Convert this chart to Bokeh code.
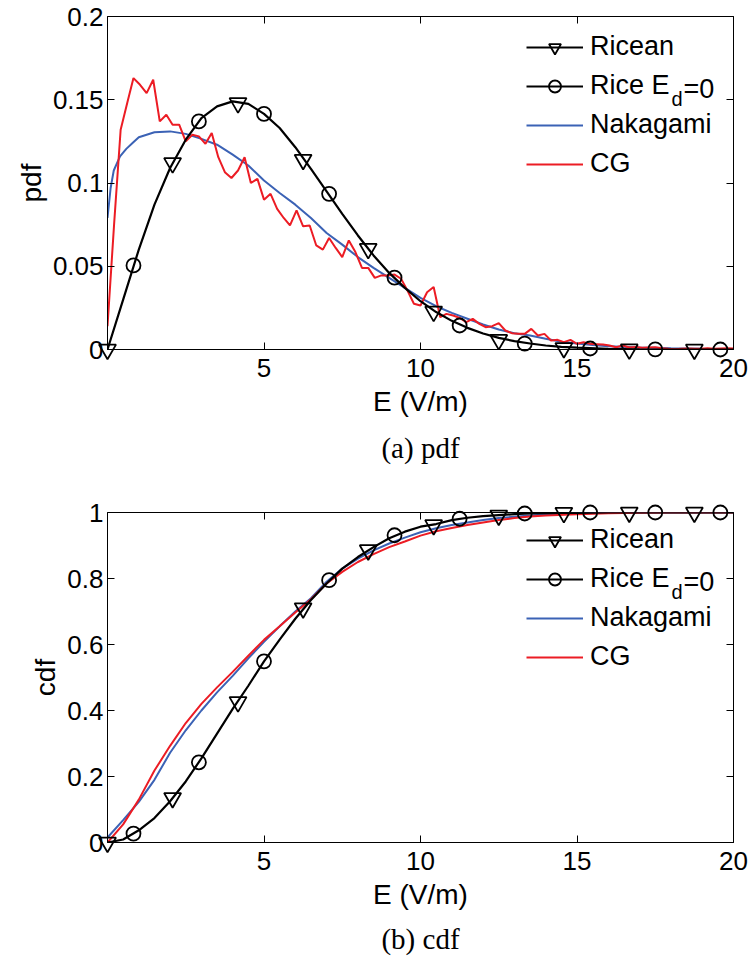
from bokeh.plotting import figure
from bokeh.models import (Range1d, FixedTicker, LinearAxis, Legend, LegendItem,
                          Label, Title)
from bokeh.layouts import column
from bokeh.embed import file_html
from bokeh.resources import INLINE

# ---------------- data ----------------
x_ticks = [5, 10, 15, 20]
x_tick_labels = ["5", "10", "15", "20"]
pdf_ticks = [0, 0.05, 0.1, 0.15, 0.2]
pdf_tick_labels = ["0", "0.05", "0.1", "0.15", "0.2"]
cdf_ticks = [0, 0.2, 0.4, 0.6, 0.8, 1.0]
cdf_tick_labels = ["0", "0.2", "0.4", "0.6", "0.8", "1"]

# Ricean (black line)
ric_x = [0, 0.5, 1.0, 1.5, 2.0, 2.5, 3.0, 3.5, 4.0, 4.5, 5.0, 5.5, 6.0, 6.5, 7.0, 7.5,
         8.0, 8.5, 9.0, 9.5, 10.0, 10.5, 11.0, 11.5, 12.0, 12.5, 13.0, 13.5, 14.0,
         14.5, 15.0, 16.0, 17.0, 18.0, 19.0, 20.0]
ric_pdf = [0, 0.030, 0.060, 0.087, 0.109, 0.126, 0.139, 0.146, 0.149, 0.1475, 0.1415,
           0.133, 0.1215, 0.1085, 0.095, 0.0815, 0.0685, 0.0565, 0.046, 0.037, 0.029,
           0.0225, 0.0172, 0.013, 0.0096, 0.007, 0.005, 0.0036, 0.0024, 0.0016, 0.0011,
           0.0004, 0.0001, 0, 0, 0]
ric_cdf = [0, 0.009, 0.037, 0.074, 0.125, 0.185, 0.255, 0.33, 0.405, 0.475, 0.549,
           0.615, 0.678, 0.735, 0.785, 0.83, 0.865, 0.895, 0.922, 0.942, 0.957, 0.965,
           0.977, 0.984, 0.989, 0.992, 0.995, 0.997, 0.998, 0.9985, 0.999, 1.0, 1.0,
           1.0, 1.0, 1.0]

# Ricean markers (triangles) and Rice E_d=0 markers (circles)
tri_x = [0, 2.08, 4.17, 6.25, 8.33, 10.42, 12.5, 14.58, 16.67, 18.75]
tri_pdf = [0, 0.112, 0.148, 0.114, 0.0605, 0.0228, 0.0058, 0.0009, 0.0001, 0]
tri_cdf = [0, 0.135, 0.4256, 0.71, 0.886, 0.962, 0.991, 0.999, 1.0, 1.0]
circ_x = [0.83, 2.92, 5.0, 7.08, 9.17, 11.25, 13.33, 15.42, 17.5, 19.58]
circ_pdf = [0.0505, 0.137, 0.1415, 0.0935, 0.0432, 0.0144, 0.0035, 0.0006, 0.0001, 0]
circ_cdf = [0.027, 0.243, 0.549, 0.795, 0.931, 0.981, 0.997, 1.0, 1.0, 1.0]

# Nakagami (blue)
nak_pdf_x = [0, 0.1, 0.2, 0.4, 0.6, 0.8, 1.0, 1.5, 2.0, 2.5, 3.0, 3.5, 4.0, 4.5, 5.0,
             5.5, 6.0, 6.5, 7.0, 7.5, 8.0, 8.5, 9.0, 9.5, 10.0, 10.5, 11.0, 11.5, 12.0,
             12.5, 13.0, 13.5, 14.0, 14.5, 15.0, 15.5, 16.0, 17.0, 18.0, 19.0, 20.0]
nak_pdf = [0.079, 0.097, 0.1075, 0.116, 0.1205, 0.124, 0.1275, 0.1305, 0.131, 0.1295,
           0.1265, 0.123, 0.117, 0.1105, 0.1015, 0.094, 0.087, 0.079, 0.070, 0.063,
           0.0555, 0.049, 0.043, 0.037, 0.031, 0.026, 0.022, 0.0185, 0.015, 0.012,
           0.0098, 0.0084, 0.0064, 0.0046, 0.0036, 0.0027, 0.002, 0.0012, 0.0007,
           0.0004, 0.0002]
nak_cdf_x = [0, 0.5, 1.0, 1.5, 2.0, 2.5, 3.0, 3.5, 4.0, 4.5, 5.0, 5.5, 6.0, 6.5, 7.0,
             7.5, 8.0, 8.5, 9.0, 9.5, 10.0, 10.5, 11.0, 11.5, 12.0, 12.5, 13.0, 13.5,
             14.0, 15.0, 16.0, 17.0, 20.0]
nak_cdf = [0.015, 0.068, 0.123, 0.19, 0.272, 0.34, 0.40, 0.455, 0.505, 0.558, 0.608,
           0.655, 0.70, 0.74, 0.79, 0.83, 0.86, 0.885, 0.906, 0.924, 0.94, 0.952, 0.962,
           0.970, 0.977, 0.983, 0.987, 0.991, 0.994, 0.997, 0.999, 1.0, 1.0]

# CG (red)
cg_pdf_x = [0.0, 0.21, 0.42, 0.63, 0.83, 1.04, 1.25, 1.46, 1.67, 1.88, 2.08, 2.29, 2.50,
            2.71, 2.92, 3.13, 3.33, 3.54, 3.75, 3.96, 4.17, 4.38, 4.58, 4.79, 5.00, 5.21,
            5.42, 5.63, 5.83, 6.04, 6.25, 6.46, 6.67, 6.88, 7.08, 7.29, 7.50, 7.71, 7.92,
            8.13, 8.33, 8.54, 8.75, 8.96, 9.17, 9.38, 9.58, 9.79, 10.0, 10.21, 10.42,
            10.63, 10.83, 11.04, 11.25, 11.46, 11.67, 11.88, 12.08, 12.29, 12.50, 12.71,
            12.92, 13.13, 13.33, 13.54, 13.75, 13.96, 14.17, 14.38, 14.58, 14.79, 15.0,
            15.21, 15.42, 15.63, 15.83, 16.04, 16.25, 16.46, 16.67, 16.88, 17.08, 17.29,
            17.50, 17.71, 17.92, 18.13, 18.33, 18.54, 18.75, 18.96, 19.17, 19.38, 19.58,
            19.79, 20.0]
cg_pdf = [0.014, 0.075, 0.132, 0.148, 0.163, 0.159, 0.154, 0.162, 0.137, 0.141, 0.135,
          0.135, 0.125, 0.129, 0.128, 0.1235, 0.130, 0.1155, 0.1065, 0.103, 0.1075,
          0.1155, 0.100, 0.1025, 0.090, 0.0935, 0.0845, 0.079, 0.0745, 0.0835, 0.074,
          0.0745, 0.0625, 0.060, 0.067, 0.061, 0.0555, 0.0655, 0.0585, 0.049, 0.049,
          0.043, 0.0445, 0.0445, 0.045, 0.0425, 0.0355, 0.0275, 0.0264, 0.0344, 0.0375,
          0.0194, 0.0214, 0.0204, 0.019, 0.0164, 0.0184, 0.0154, 0.0134, 0.014, 0.0158,
          0.0114, 0.0098, 0.0094, 0.0094, 0.0124, 0.0084, 0.0094, 0.0054, 0.0058, 0.0044,
          0.0058, 0.0034, 0.0044, 0.0034, 0.0032, 0.003, 0.0024, 0.0014, 0.0024, 0.0012,
          0.0015, 0.001, 0.0012, 0.0014, 0.0008, 0.0004, 0.0002, 0.0004, 0.0006, 0.0004,
          0.0004, 0.0008, 0.0004, 0.0006, 0.0008, 0.0006]
cg_cdf_x = [0, 0.5, 1.0, 1.5, 2.0, 2.5, 3.0, 3.5, 4.0, 4.5, 5.0, 5.5, 6.0, 6.5, 7.0, 7.5,
            8.0, 8.5, 9.0, 9.5, 10.0, 10.5, 11.0, 11.5, 12.0, 12.5, 13.0, 13.5, 14.0,
            15.0, 16.0, 17.0, 18.0, 20.0]
cg_cdf = [0.0, 0.055, 0.13, 0.218, 0.293, 0.362, 0.42, 0.47, 0.517, 0.566, 0.614,
          0.655, 0.697, 0.737, 0.785, 0.82, 0.85, 0.874, 0.895, 0.912, 0.93, 0.943,
          0.953, 0.962, 0.970, 0.977, 0.983, 0.988, 0.991, 0.995, 0.998, 0.999, 1.0, 1.0]

legend_labels = ["Ricean", "Rice E", "Nakagami", "CG"]
caption_a = "(a) pdf"
caption_b = "(b) cdf"

# ---------------- style ----------------
SANS = "Liberation Sans"
SERIF = "Liberation Serif"
BLUE = "#3b62b5"
RED = "#ec1c24"
TICK_FS = "26px"
LABEL_FS = "28px"
LEG_FS = "27px"


def style_axes(p, yticks, ylabels, ylabel):
    p.xaxis.ticker = FixedTicker(ticks=x_ticks)
    p.xaxis.major_label_overrides = dict(zip(x_ticks, x_tick_labels))
    p.yaxis.ticker = FixedTicker(ticks=yticks)
    p.yaxis.major_label_overrides = dict(zip(yticks, ylabels))
    for ax in (p.xaxis[0], p.yaxis[0]):
        ax.major_tick_in = 7
        ax.major_tick_out = 0
        ax.minor_tick_line_color = None
        ax.major_label_text_font = SANS
        ax.major_label_text_font_size = TICK_FS
        ax.major_label_text_color = "black"
        ax.axis_label_text_font = SANS
        ax.axis_label_text_font_size = LABEL_FS
        ax.axis_label_text_font_style = "normal"
        ax.axis_label_text_color = "black"
        ax.axis_line_color = "black"
        ax.major_tick_line_color = "black"
    p.xaxis.axis_label = "E (V/m)"
    p.xaxis.major_label_standoff = 9
    p.xaxis.axis_label_standoff = 6
    p.yaxis.axis_label = ylabel
    p.yaxis.major_label_standoff = 4
    p.yaxis.axis_label_standoff = 3
    # mirrored ticks on top / right (no labels drawn)
    common = dict(major_tick_in=7, major_tick_out=0, minor_tick_line_color=None,
                  major_tick_line_color="black", major_label_text_font_size="1px",
                  major_label_text_color=None, major_label_standoff=0,
                  axis_line_color=None)
    top = LinearAxis(ticker=FixedTicker(ticks=x_ticks), **common)
    right = LinearAxis(ticker=FixedTicker(ticks=yticks), **common)
    p.add_layout(top, "above")
    p.add_layout(right, "right")
    p.grid.visible = False
    p.outline_line_color = "black"
    p.outline_line_width = 1
    p.outline_line_alpha = 1


def make_panel(ylo_hi, yticks, ylabels, ylabel, rx, ry, tx, ty, cx, cy,
               nx, ny, gx, gy, caption, top_border, bottom_border, cap_standoff):
    p = figure(width=749, height=481, output_backend="svg", toolbar_location=None,
               x_range=Range1d(0, 20), y_range=Range1d(*ylo_hi),
               min_border_left=107, min_border_right=16,
               min_border_top=top_border, min_border_bottom=bottom_border)
    style_axes(p, yticks, ylabels, ylabel)

    blue = p.line(nx, ny, line_color=BLUE, line_width=2)
    red = p.line(gx, gy, line_color=RED, line_width=2)
    blk = p.line(rx, ry, line_color="black", line_width=2.2)
    tri = p.scatter(tx, ty, marker="inverted_triangle", size=17, fill_color=None,
                    line_color="black", line_width=1.8, level="overlay")
    circ = p.scatter(cx, cy, marker="circle", size=14, fill_color=None,
                     line_color="black", line_width=1.8, level="overlay")

    legend = Legend(items=[
        LegendItem(label=legend_labels[0], renderers=[blk, tri]),
        LegendItem(label=legend_labels[1], renderers=[blk, circ]),
        LegendItem(label=legend_labels[2], renderers=[blue]),
        LegendItem(label=legend_labels[3], renderers=[red]),
    ], location=(419, 170), padding=0, margin=0, spacing=8,
        glyph_width=57, glyph_height=30, label_height=30, label_standoff=7,
        label_text_font=SANS, label_text_font_size=LEG_FS, label_text_color="black",
        border_line_color=None, background_fill_alpha=0)
    p.add_layout(legend)

    # subscript "d" and "=0" after "Rice E"
    p.add_layout(Label(x=564, y=251, x_units="screen", y_units="screen", text="d",
                       text_font=SANS, text_font_size="20px", text_baseline="middle",
                       text_color="black"))
    p.add_layout(Label(x=576, y=261, x_units="screen", y_units="screen", text="=0",
                       text_font=SANS, text_font_size=LEG_FS, text_baseline="middle",
                       text_color="black"))

    t = Title(text=caption, align="center", text_font=SERIF, text_font_size="29px",
              text_font_style="normal", text_color="black", standoff=cap_standoff)
    p.add_layout(t, "below")
    return p


p1 = make_panel((0, 0.2), pdf_ticks, pdf_tick_labels, "pdf",
                ric_x, ric_pdf, tri_x, tri_pdf, circ_x, circ_pdf,
                nak_pdf_x, nak_pdf, cg_pdf_x, cg_pdf, caption_a, 16, 132, 20)
p2 = make_panel((0, 1.0), cdf_ticks, cdf_tick_labels, "cdf",
                ric_x, ric_cdf, tri_x, tri_cdf, circ_x, circ_cdf,
                nak_cdf_x, nak_cdf, cg_cdf_x, cg_cdf, caption_b, 31, 118, 16)

layout = column(p1, p2, spacing=0)
open("out.html", "w").write(file_html(layout, INLINE))
